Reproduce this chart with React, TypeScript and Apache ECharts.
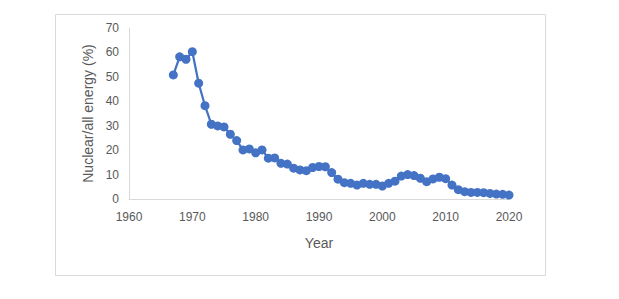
import React, { useEffect, useRef } from "react";
import * as echarts from "echarts";

const years: number[] = [
  1967, 1968, 1969, 1970, 1971, 1972, 1973, 1974, 1975, 1976, 1977, 1978, 1979,
  1980, 1981, 1982, 1983, 1984, 1985, 1986, 1987, 1988, 1989, 1990, 1991, 1992,
  1993, 1994, 1995, 1996, 1997, 1998, 1999, 2000, 2001, 2002, 2003, 2004, 2005,
  2006, 2007, 2008, 2009, 2010, 2011, 2012, 2013, 2014, 2015, 2016, 2017, 2018,
  2019, 2020,
];
const nuclearShare: number[] = [
  50.8, 58.2, 57.2, 60.3, 47.4, 38.2, 30.6, 29.9, 29.5, 26.5, 23.9, 20.1, 20.5,
  18.9, 20.1, 16.7, 16.8, 14.6, 14.3, 12.6, 11.9, 11.6, 12.9, 13.3, 13.2, 10.8,
  8.1, 6.7, 6.4, 5.7, 6.4, 6.0, 6.0, 5.3, 6.4, 7.3, 9.4, 10.0, 9.6,
  8.5, 7.1, 8.2, 8.9, 8.3, 5.7, 3.8, 3.0, 2.7, 2.7, 2.6, 2.3, 2.0,
  1.9, 1.6,
];
const xAxisName = "Year";
const yAxisName = "Nuclear/all energy (%)";

const FONT = "'Liberation Sans', 'Noto Sans', sans-serif";
const TEXT = "#595959";
const AXIS = "#d9d9d9";
const BLUE = "#4472C4";

export default function App() {
  const ref = useRef<HTMLDivElement>(null);
  useEffect(() => {
    if (!ref.current) return;
    const chart = echarts.init(ref.current, undefined, { renderer: "svg" });
    chart.setOption({
      animation: false,
      backgroundColor: "#ffffff",
      graphic: [
        {
          type: "rect",
          left: 53,
          top: 12,
          shape: { width: 490, height: 261 },
          style: { fill: "none", stroke: AXIS, lineWidth: 1 },
          silent: true,
        },
      ],
      grid: { left: 129, right: 110, top: 28, bottom: 100 },
      xAxis: {
        type: "value",
        min: 1960,
        max: 2020,
        interval: 10,
        name: xAxisName,
        nameLocation: "middle",
        nameGap: 37,
        nameTextStyle: { color: TEXT, fontFamily: FONT, fontSize: 14 },
        axisLine: { show: true, lineStyle: { color: AXIS, width: 1 } },
        axisTick: { show: false },
        splitLine: { show: false },
        axisLabel: {
          color: TEXT,
          fontFamily: FONT,
          fontSize: 12,
          margin: 12,
          formatter: (v: number) => String(v),
        },
      },
      yAxis: {
        type: "value",
        min: 0,
        max: 70,
        interval: 10,
        name: yAxisName,
        nameLocation: "middle",
        nameGap: 30,
        nameTextStyle: { color: TEXT, fontFamily: FONT, fontSize: 14 },
        axisLine: { show: true, lineStyle: { color: AXIS, width: 1 } },
        axisTick: { show: false },
        splitLine: { show: false },
        axisLabel: { color: TEXT, fontFamily: FONT, fontSize: 12, margin: 10 },
      },
      series: [
        {
          type: "line",
          data: years.map((y, i) => [y, nuclearShare[i]]),
          symbol: "circle",
          symbolSize: 9,
          showAllSymbol: true,
          lineStyle: { color: BLUE, width: 2.25 },
          itemStyle: { color: BLUE },
        },
      ],
    });
    return () => chart.dispose();
  }, []);
  return (
    <div
      ref={ref}
      style={{ position: "absolute", left: 0, top: 0, width: 619, height: 299 }}
    />
  );
}
